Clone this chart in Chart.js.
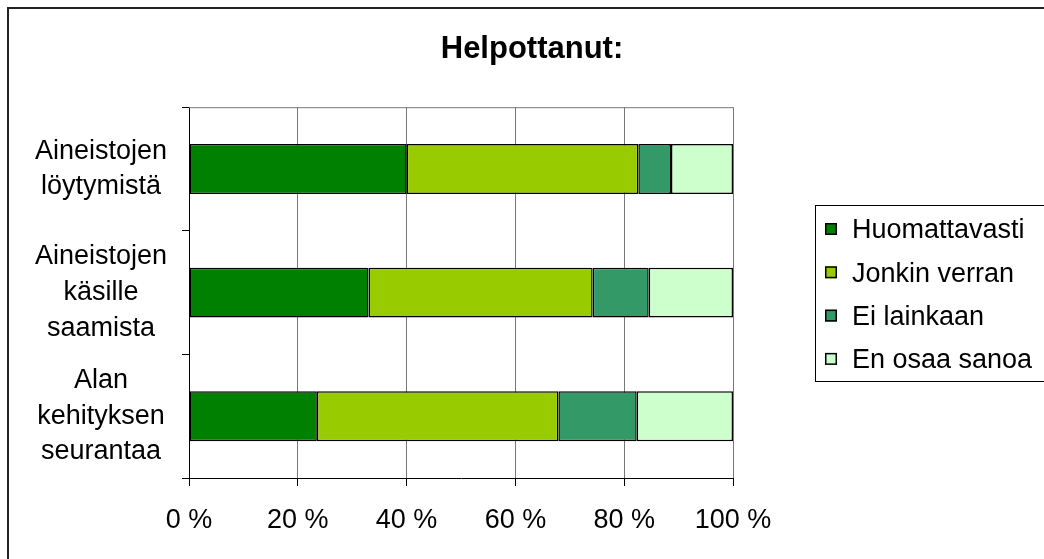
<!DOCTYPE html>
<html>
<head>
<meta charset="utf-8">
<script src="https://cdn.jsdelivr.net/npm/chart.js@4"></script>
<style>
html, body { margin: 0; padding: 0; background: #fff; overflow: hidden; }
</style>
</head>
<body>
<canvas id="myChart" width="1064" height="580"></canvas>
<script>
const otsikko = 'Helpottanut:';
const kategoriat = [['Aineistojen', 'löytymistä'], ['Aineistojen', 'käsille', 'saamista'], ['Alan', 'kehityksen', 'seurantaa']];
const sarjat = ['Huomattavasti', 'Jonkin verran', 'Ei lainkaan', 'En osaa sanoa'];
const huomattavasti = [40, 33, 23.5];
const jonkinVerran = [42.6, 41.2, 44.4];
const eiLainkaan = [6, 10.3, 14.4];
const enOsaaSanoa = [11.4, 15.5, 17.7];
const xTikit = ['0 %', '20 %', '40 %', '60 %', '80 %', '100 %'];
const varit = ['#008000', '#99cc00', '#339966', '#ccffcc'];

const fontti = "'Liberation Sans', Arial, sans-serif";

// kehys, kuvaajan yläreuna ja selite
const piirrot = {
    id: 'piirrot',
    afterLayout(chart) {
        // otsikko koko kuvan leveydelle keskitettynä
        const t = chart.titleBlock;
        if (t) {
            t.left = 0;
            t.right = chart.width;
            t.width = chart.width;
        }
    },
    afterDraw(chart) {
        const ctx = chart.ctx;
        const a = chart.chartArea;
        ctx.save();

        ctx.strokeStyle = '#222';
        ctx.lineWidth = 2;
        ctx.strokeRect(8, 8, 1200, 800);

        ctx.strokeStyle = '#777';
        ctx.lineWidth = 1;
        ctx.beginPath();
        ctx.moveTo(a.left, a.top + 0.5);
        ctx.lineTo(a.right, a.top + 0.5);
        ctx.stroke();

        ctx.strokeStyle = '#000';
        ctx.strokeRect(815.5, 205.5, 400, 176);
        ctx.font = '27px ' + fontti;
        ctx.textBaseline = 'middle';
        ctx.textAlign = 'left';
        chart.data.datasets.forEach(function (ds, i) {
            var y = 229 + i * 43.3;
            ctx.fillStyle = ds.backgroundColor;
            ctx.fillRect(825, y - 6, 12, 12);
            ctx.lineWidth = 1.5;
            ctx.strokeRect(825.75, y - 5.25, 10.5, 10.5);
            ctx.fillStyle = '#000';
            ctx.fillText(ds.label, 852, y + 2);
        });
        ctx.restore();
    }
};

const arvot = [huomattavasti, jonkinVerran, eiLainkaan, enOsaaSanoa];

const ctx = document.getElementById('myChart');

new Chart(ctx, {
    type: 'bar',
    data: {
        labels: kategoriat,
        datasets: sarjat.map(function (nimi, i) {
            return {
                label: nimi,
                data: arvot[i],
                backgroundColor: varit[i],
                borderColor: '#000',
                borderWidth: 1.5,
                borderSkipped: false,
                barPercentage: 0.404,
                categoryPercentage: 1
            };
        })
    },
    options: {
        indexAxis: 'y',
        responsive: false,
        animation: false,
        devicePixelRatio: 1,
        layout: { padding: { left: 0, right: 331, top: 0, bottom: 0 } },
        plugins: {
            legend: { display: false },
            tooltip: { enabled: false },
            title: {
                display: true,
                text: otsikko,
                color: '#000',
                font: { family: fontti, size: 31, weight: 'bold' },
                padding: { top: 31, bottom: 39 },
                lineHeight: 1.2
            }
        },
        scales: {
            x: {
                stacked: true,
                min: 0,
                max: 100,
                ticks: {
                    stepSize: 20,
                    color: '#000',
                    padding: 18,
                    maxRotation: 0,
                    font: { family: fontti, size: 27 },
                    callback: function (v, i) { return xTikit[i]; }
                },
                grid: { color: '#777', tickColor: '#000', tickLength: 8 },
                border: { color: '#000', width: 1 },
                afterFit: function (s) { s.height = 102; }
            },
            y: {
                stacked: true,
                ticks: {
                    color: '#000',
                    padding: 15,
                    crossAlign: 'center',
                    font: { family: fontti, size: 27, lineHeight: 1.32 }
                },
                grid: { drawOnChartArea: false, tickLength: 7, color: '#000', offset: true },
                border: { color: '#000', width: 1 },
                afterFit: function (s) { s.width = 189; }
            }
        }
    },
    plugins: [piirrot]
});
</script>
</body>
</html>
